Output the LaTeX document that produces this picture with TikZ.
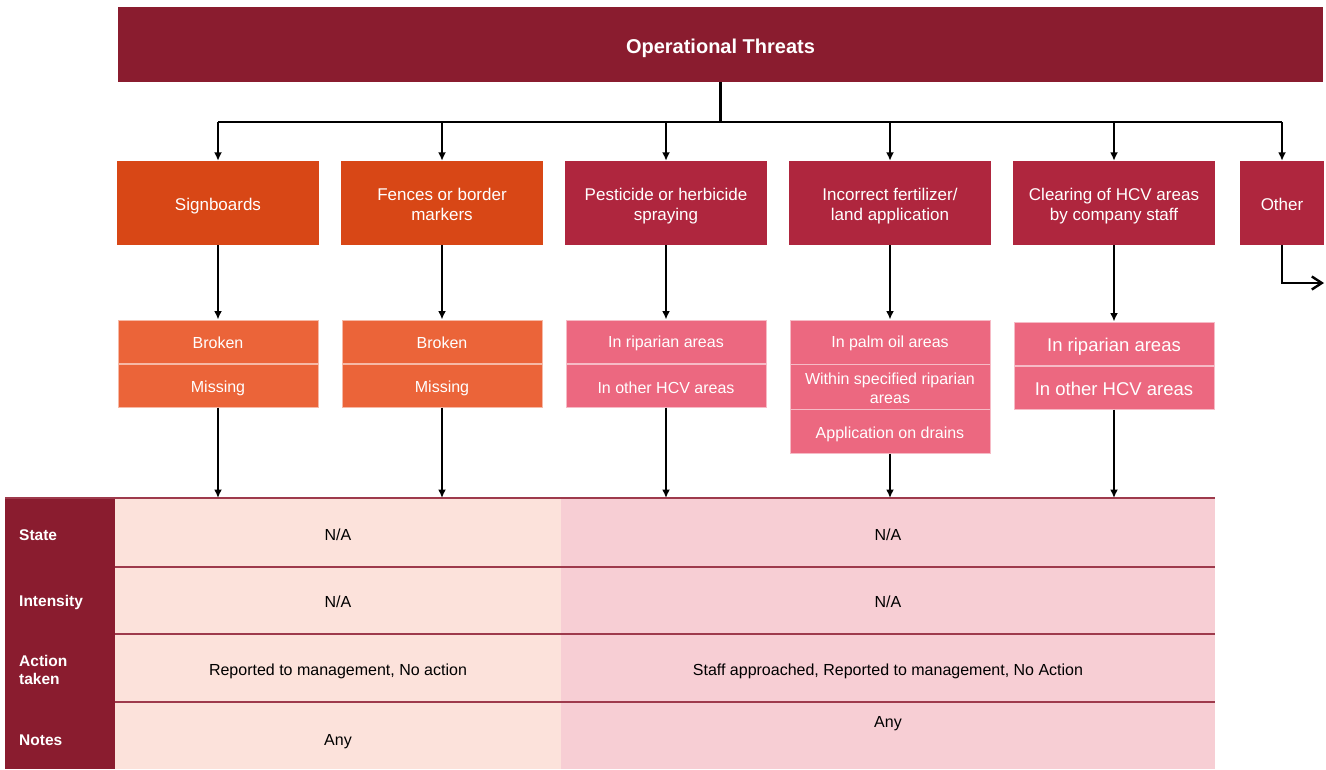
\documentclass[tikz,border=0pt]{standalone}
\usepackage{fontspec}
\setmainfont{Liberation Sans}
\usetikzlibrary{arrows.meta}

\definecolor{wine}{HTML}{8A1C2F}
\definecolor{rust}{HTML}{D84716}
\definecolor{crimson}{HTML}{AF263E}
\definecolor{coral}{HTML}{EB6439}
\definecolor{rose}{HTML}{EC6880}
\definecolor{peach}{HTML}{FCE2DB}
\definecolor{blush}{HTML}{F7CED4}
\definecolor{rowrule}{HTML}{9E3A4C}

\tikzset{
  box/.style={rectangle, inner sep=0pt, minimum width=202pt, minimum height=84pt},
  catA/.style={box, fill=rust},
  catB/.style={box, fill=crimson},
  subbox/.style={rectangle, inner sep=0pt, minimum width=200pt,
    fill=#1, draw=#1!45!white, line width=1pt},
  txt/.style={inner sep=0pt, align=center, text=white},
  cattxt/.style={txt, font=\fontsize{17}{20}\selectfont},
  subtxt/.style={txt, font=\fontsize{16}{19}\selectfont},
  bigsubtxt/.style={txt, font=\fontsize{18.5}{21}\selectfont},
  wire/.style={line width=2.4pt, black},
  link/.style={wire, -{Latex[length=8.5pt,width=8pt]}},
  cell/.style={inner sep=0pt, align=center, text=black, font=\fontsize{16}{18}\selectfont},
  lbl/.style={inner sep=0pt, anchor=west, align=left, text=white, font=\bfseries\fontsize{15.5}{18}\selectfont},
  panel/.style={rectangle, inner sep=0pt, anchor=north west, minimum height=271pt},
}

\begin{document}
\begin{tikzpicture}[x=1pt, y=-1pt]
\useasboundingbox (0,0) rectangle (1326,769);

% title bar
\node[box, fill=wine, minimum width=1205pt, minimum height=75pt] (top) at (720.5,44.5) {};
\node[txt, font=\bfseries\fontsize{20}{22}\selectfont] (topT) at ([yshift=-4pt]top.center) {Operational Threats};

% threat categories
\node[catA] (sign)  at (218,203)  {};
\node[catA] (fence) at (442,203)  {};
\node[catB] (pest)  at (666,203)  {};
\node[catB] (fert)  at (890,203)  {};
\node[catB] (clear) at (1114,203) {};
\node[catB, minimum width=84pt] (other) at (1282,203) {};

\node[cattxt] (signT)  at ([yshift=-3pt]sign.center)  {Signboards};
\node[cattxt] (fenceT) at ([yshift=-1pt]fence.center) {Fences or border\\markers};
\node[cattxt] (pestT)  at ([yshift=-3pt]pest.center)  {Pesticide or herbicide\\spraying};
\node[cattxt] (fertT)  at ([yshift=-3pt]fert.center)  {Incorrect fertilizer/\\land application};
\node[cattxt] (clearT) at ([yshift=-3pt]clear.center) {Clearing of HCV areas\\by company staff};
\node[cattxt] (otherT) at ([yshift=-1pt]other.center) {Other};

% sub-types
\node[subbox=coral, minimum height=43pt] (signA)  at (218,341.5) {};
\node[subbox=coral, minimum height=43pt] (signB)  at (218,385.5) {};
\node[subbox=coral, minimum height=43pt] (fenceA) at (442,341.5) {};
\node[subbox=coral, minimum height=43pt] (fenceB) at (442,385.5) {};
\node[subbox=rose, minimum height=43pt] (pestA)  at (666,341.5) {};
\node[subbox=rose, minimum height=43pt] (pestB)  at (666,385.5) {};
\node[subbox=rose, minimum height=44pt] (fertA)  at (890,342) {};
\node[subbox=rose, minimum height=45pt] (fertB)  at (890,386.5) {};
\node[subbox=rose, minimum height=44pt] (fertC)  at (890,431) {};
\node[subbox=rose, minimum height=43pt] (clearA) at (1114,343.5) {};
\node[subbox=rose, minimum height=43pt] (clearB) at (1114,387.5) {};

\node[subtxt] (signAT)  at ([yshift=-1pt]signA.center)  {Broken};
\node[subtxt] (signBT)  at ([yshift=-3pt]signB.center)  {Missing};
\node[subtxt] (fenceAT) at ([yshift=-1pt]fenceA.center) {Broken};
\node[subtxt] (fenceBT) at ([yshift=-3pt]fenceB.center) {Missing};
\node[subtxt] (pestAT)  at ([yshift=-2pt]pestA.center)  {In riparian areas};
\node[subtxt] (pestBT)  at ([yshift=-2pt]pestB.center)  {In other HCV areas};
\node[subtxt] (fertAT)  at ([yshift=-1pt]fertA.center)  {In palm oil areas};
\node[subtxt] (fertBT)  at ([yshift=-2pt]fertB.center)  {Within specified riparian\\areas};
\node[subtxt] (fertCT)  at ([yshift=-3pt]fertC.center)  {Application on drains};
\node[bigsubtxt] (clearAT) at ([yshift=-3pt]clearA.center) {In riparian areas};
\node[bigsubtxt] (clearBT) at ([yshift=-1pt]clearB.center) {In other HCV areas};

% attribute table
\node[panel, fill=wine, minimum width=110pt] (head) at (5,498) {};
\node[panel, fill=peach, minimum width=446pt] (bodyL) at (115,498) {};
\node[panel, fill=blush, minimum width=654pt] (bodyR) at (561,498) {};

\draw[rowrule, line width=1.6pt] (head.north west) -- (bodyR.north east);
\foreach \yy in {567,634,702}
  \draw[rowrule, line width=1.6pt] (bodyL.west |- 0,\yy) -- (bodyR.east |- 0,\yy);

\node[lbl] (lState)  at (19,535) {State};
\node[lbl] (lInt)    at (19,602) {Intensity};
\node[lbl] (lAction) at (19,670) {Action\\taken};
\node[lbl] (lNotes)  at (19,740) {Notes};

\node[cell] (stateL)  at (338,535) {N/A};
\node[cell] (intL)    at (338,602) {N/A};
\node[cell] (actL)    at (338,671) {Reported to management, No action};
\node[cell] (notesL)  at (338,742) {Any};
\node[cell] (stateR)  at (888,535) {N/A};
\node[cell] (intR)    at (888,602) {N/A};
\node[cell] (actR)    at (888,671) {Staff approached, Reported to management, No Action};
\node[cell] (notesR)  at (888,724) {Any};

% connectors: title to categories
\draw[wire] (top.south) -- ++(0,40) coordinate (hub);
\draw[wire] (sign.north |- hub) -- (other.north |- hub);
\foreach \c in {sign,fence,pest,fert,clear,other}
  \draw[link] (\c.north |- hub) -- (\c.north);

% categories to sub-types
\draw[link] (sign.south)  -- (signA.north);
\draw[link] (fence.south) -- (fenceA.north);
\draw[link] (pest.south)  -- (pestA.north);
\draw[link] (fert.south)  -- (fertA.north);
\draw[link] (clear.south) -- (clearA.north);

% sub-types to table
\draw[link] (signB.south)  -- (signB.south |- bodyL.north);
\draw[link] (fenceB.south) -- (fenceB.south |- bodyL.north);
\draw[link] (pestB.south)  -- (pestB.south |- bodyR.north);
\draw[link] (fertC.south)  -- (fertC.south |- bodyR.north);
\draw[link] (clearB.south) -- (clearB.south |- bodyR.north);

% "Other" leads off to the right
\coordinate (otherEnd) at (1324,283);
\draw[wire, -{Straight Barb[length=10pt,width=13pt]}] (other.south) |- (otherEnd);
\end{tikzpicture}
\end{document}
